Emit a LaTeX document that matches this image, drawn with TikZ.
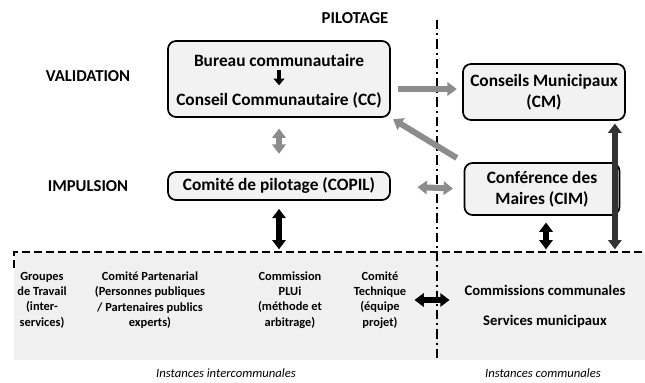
\documentclass[tikz,border=0pt]{standalone}
\usepackage{fontspec}
\setmainfont{Carlito}
\usetikzlibrary{arrows.meta,positioning,calc}

\begin{document}
\begin{tikzpicture}[x=0.75pt,y=-0.75pt,inner sep=1pt,>={Triangle[length=7pt,width=10pt]},
  box/.style={draw,rounded corners=6pt,line width=1.3pt,fill=black!5,align=center,inner sep=3pt,font=\bfseries\fontsize{13}{16}\selectfont},
  boxtext/.style={font=\bfseries\fontsize{13}{16}\selectfont},
  level/.style={font=\bfseries\fontsize{12.5}{15}\selectfont},
  inst/.style={align=center,font=\bfseries\fontsize{9.3}{11.5}\selectfont},
  instcom/.style={font=\bfseries\fontsize{11}{13}\selectfont},
  foot/.style={font=\itshape\fontsize{9.5}{12}\selectfont},
  greyarrow/.style={line width=4.5pt,draw=black!45},
  blackarrow/.style={line width=4.5pt,draw=black},
  sep/.style={line width=1.3pt,dash pattern=on 7pt off 3pt on 1.5pt off 3pt}]
\useasboundingbox (0,0) rectangle (645,382);
\fill [black!6] (14,252) rectangle (645,360);
\draw [line width=1.3pt,dash pattern=on 6pt off 3pt] (14,268) -- (14,252) -- (645,252);
\draw [sep] (437,20) -- (437,362);
\coordinate (top) at (437,252);

\node [level] (pil) at (355,18) {PILOTAGE};
\node [level] (val) at (88,76) {VALIDATION};
\node [level] (imp) at (88,186) {IMPULSION};

\node [box,minimum width=222*0.75pt,minimum height=76*0.75pt] (cct) at (279,79) {};
\node [boxtext] (bur) at (279,60) {Bureau communautaire};
\node [boxtext] (cc) at (279,100) {Conseil Communautaire (CC)};
\draw [line width=3pt,-{Triangle[length=5pt,width=8pt]},shorten <=2pt,shorten >=4pt] (bur) -- (cc);
\node [box,minimum width=162*0.75pt,minimum height=56*0.75pt] (cm) at (544,92) {Conseils Municipaux\\(CM)};
\node [box,minimum width=222*0.75pt,minimum height=28*0.75pt] (copil) at (279,186) {Comité de pilotage (COPIL)};
\node [box,minimum width=155*0.75pt,minimum height=52*0.75pt] (cim) at (542,189) {Conférence des\\Maires (CIM)};

\node [inst] (grp) at (42,300) {Groupes\\de Travail\\(inter-\\services)};
\node [inst] (part) at (150,300) {Comité Partenarial\\(Personnes publiques\\/ Partenaires publics\\experts)};
\node [inst] (plui) at (290,300) {Commission\\PLUi\\(méthode et\\arbitrage)};
\node [inst] (tech) at (380,300) {Comité\\Technique\\(équipe\\projet)};
\node [instcom] (com) at (545,290) {Commissions communales};
\node [instcom] (serv) at (545,322) {Services municipaux};

\node [foot] (inter) at (226,373) {Instances intercommunales};
\node [foot] (comm) at (543,373) {Instances communales};

\draw [greyarrow,->,shorten <=5pt,shorten >=4pt] ([yshift=3*0.75pt]cct.east |- cm.west) -- ([yshift=3*0.75pt]cm.west);
\draw [greyarrow,->,shorten <=6pt,shorten >=2pt] (cim.north west) -- (cct.south east);
\draw [greyarrow,<->,shorten <=8pt,shorten >=13pt] (cct.south) -- (copil.north);
\draw [greyarrow,<->,shorten <=20pt,shorten >=8pt] (copil.east) -- (cim.west);
\draw [blackarrow,<->,shorten <=6pt,shorten >=2pt] (copil.south) -- (copil.south |- top);
\draw [blackarrow,<->,shorten <=5pt,shorten >=2pt] ([xshift=4*0.75pt]cim.south) -- ([xshift=4*0.75pt]cim.south |- top);
\draw [blackarrow,draw=black!80,<->,shorten <=2pt,shorten >=2pt] ([xshift=-11*0.75pt]cm.south east) -- ([xshift=-11*0.75pt]cm.south east |- top);
\draw [blackarrow,<->,shorten <=5pt,shorten >=10pt] (tech.east) -- (com.west |- tech.east);
\end{tikzpicture}
\end{document}
